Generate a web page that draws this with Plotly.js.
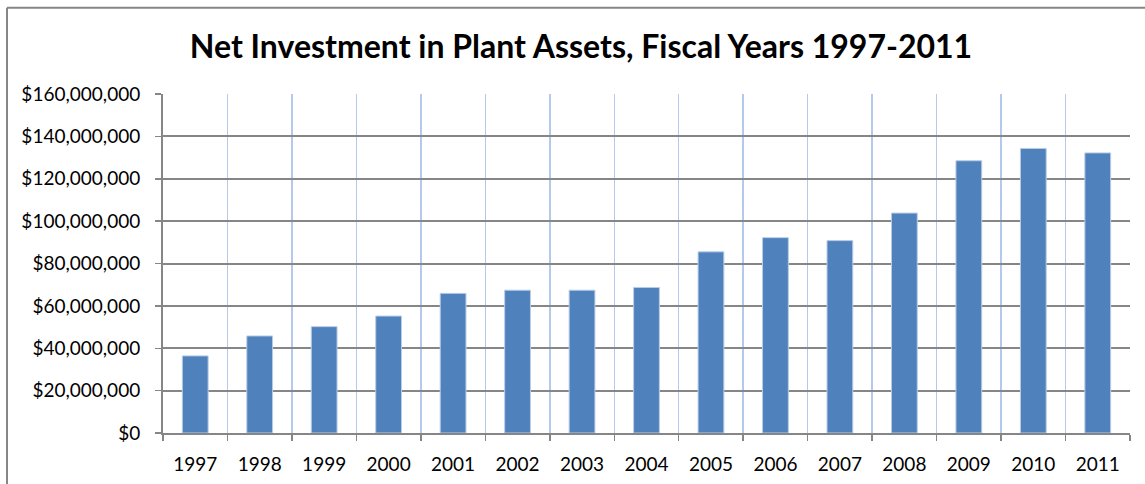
<!DOCTYPE html>
<html>
<head>
<meta charset="utf-8">
<script src="https://cdn.plot.ly/plotly-3.0.1.min.js"></script>
<style>
html,body{margin:0;padding:0;background:#fff;}
#chart{width:1145px;height:484px;}
</style>
</head>
<body>
<div id="chart"></div>
<script>
const years = ["1997","1998","1999","2000","2001","2002","2003","2004","2005","2006","2007","2008","2009","2010","2011"];
const netInvestment = [36400000,45800000,50200000,55200000,65900000,67400000,67400000,68700000,85500000,92200000,90800000,103800000,128500000,134300000,132200000];
const yTickValues = [0,20000000,40000000,60000000,80000000,100000000,120000000,140000000,160000000];
const yTickLabels = ["$0","$20,000,000","$40,000,000","$60,000,000","$80,000,000","$100,000,000","$120,000,000","$140,000,000","$160,000,000"];
const chartTitle = "Net Investment in Plant Assets, Fiscal Years 1997-2011";

const W = 1145, H = 484;
const m = {l:163, r:15, t:93.5, b:50.5};
const pw = W - m.l - m.r, ph = H - m.t - m.b;
const px = v => (v - m.l) / pw;
const py = v => (H - m.b - v) / ph;

const trace = {
  type: "bar",
  x: years,
  y: netInvestment,
  width: 0.4,
  marker: {color: "#4F81BD", line: {color: "#B9CDE5", width: 1}},
  hoverinfo: "x+y"
};

const layout = {
  width: W, height: H,
  margin: m,
  paper_bgcolor: "#fff",
  plot_bgcolor: "#fff",
  font: {family: "Lato, 'Open Sans', sans-serif", color: "#000", size: 18},
  title: {text: "<b>" + chartTitle + "</b>", font: {family: "Lato, 'Open Sans', sans-serif", size: 32, color: "#000"},
          x: 581/W, xref: "container", xanchor: "center", y: 1 - 47/H, yref: "container", yanchor: "middle"},
  showlegend: false,
  bargap: 0.6,
  xaxis: {
    type: "category",
    tickson: "boundaries",
    showgrid: true, gridcolor: "#B4CAEC", gridwidth: 1.5,
    ticks: "outside", ticklen: 6, tickcolor: "#868686", tickwidth: 1.5,
    showline: true, linecolor: "#868686", linewidth: 2,
    ticklabelstandoff: 13,
    tickfont: {size: 19},
    fixedrange: true
  },
  yaxis: {
    range: [0, 160000000],
    tickvals: yTickValues,
    ticktext: yTickLabels,
    showgrid: true, gridcolor: "#868686", gridwidth: 2,
    zeroline: false,
    ticks: "outside", ticklen: 6, tickcolor: "#868686", tickwidth: 1.5,
    showline: true, linecolor: "#868686", linewidth: 2,
    ticklabelstandoff: 11,
    tickfont: {size: 19},
    fixedrange: true
  },
  shapes: [
    {type: "line", xref: "paper", yref: "paper", x0: px(7), x1: px(W + 20), y0: py(7), y1: py(7), line: {color: "#868686", width: 2}},
    {type: "line", xref: "paper", yref: "paper", x0: px(7), x1: px(7), y0: py(7), y1: py(H + 20), line: {color: "#868686", width: 2}}
  ]
};

Plotly.newPlot("chart", [trace], layout, {displayModeBar: false, staticPlot: true});
</script>
</body>
</html>
